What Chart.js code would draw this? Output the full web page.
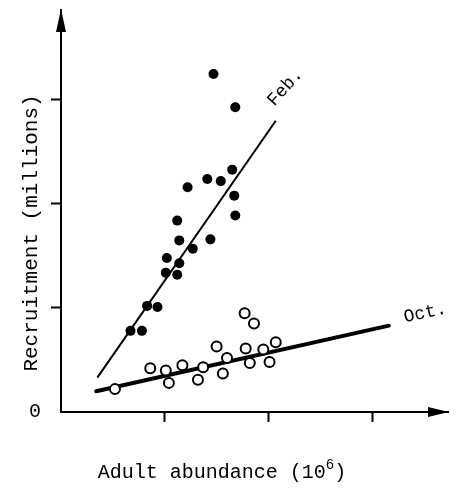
<!DOCTYPE html>
<html>
<head>
<meta charset="utf-8">
<script src="https://cdn.jsdelivr.net/npm/chart.js@4/dist/chart.umd.min.js"></script>
<style>
  html, body { margin: 0; padding: 0; background: #fff; }
</style>
</head>
<body>
<canvas id="chart" width="465" height="493"></canvas>
<script>
// Feb. (filled dots)
var febX = [1.47, 1.68, 1.65, 1.54, 1.41, 1.22, 1.67, 1.68, 1.12, 1.14,
            1.44, 1.27, 1.02, 1.14, 1.01, 1.12, 0.83, 0.93, 0.67, 0.78];
var febY = [3.25, 2.93, 2.33, 2.22, 2.24, 2.16, 2.08, 1.89, 1.84, 1.65,
            1.66, 1.57, 1.48, 1.43, 1.34, 1.32, 1.02, 1.01, 0.78, 0.78];

// Oct. (open circles)
var octX = [0.52, 0.86, 1.01, 1.04, 1.17, 1.32, 1.37, 1.50, 1.56, 1.60,
            1.77, 1.86, 1.78, 1.82, 1.95, 2.01, 2.07];
var octY = [0.22, 0.42, 0.40, 0.28, 0.45, 0.31, 0.43, 0.63, 0.37, 0.52,
            0.95, 0.85, 0.61, 0.47, 0.60, 0.48, 0.67];

// fitted lines
var febLineX = [0.35, 2.07];
var febLineY = [0.33, 2.80];
var octLineX = [0.34, 3.16];
var octLineY = [0.20, 0.83];

var xTicks = [1, 2, 3];
var yTicks = [0, 1, 2, 3];
var yTickLabels = { 0: '0' };
var seriesLabels = ['Feb.', 'Oct.'];
var xTitle = 'Adult abundance (10';
var xTitleSup = '6';
var xTitleEnd = ')';
var yTitle = 'Recruitment (millions)';

var FONT = '"Liberation Mono", "Courier New", monospace';

function pts(xs, ys) {
  return xs.map(function(x, i) { return { x: x, y: ys[i] }; });
}

var decor = {
  id: 'decor',
  afterDraw: function(chart) {
    var ctx = chart.ctx;
    var a = chart.chartArea;
    var xs = chart.scales.x;
    var ys = chart.scales.y;
    var ox = xs.getPixelForValue(0);
    var oy = ys.getPixelForValue(0);
    ctx.save();
    ctx.fillStyle = '#000';

    // arrow heads
    ctx.beginPath();
    ctx.moveTo(ox, a.top - 1);
    ctx.lineTo(ox - 5, a.top + 22);
    ctx.lineTo(ox + 5, a.top + 22);
    ctx.closePath();
    ctx.fill();
    ctx.beginPath();
    ctx.moveTo(a.right + 1, oy);
    ctx.lineTo(a.right - 20, oy - 5);
    ctx.lineTo(a.right - 20, oy + 5);
    ctx.closePath();
    ctx.fill();

    // series labels
    ctx.font = '18px ' + FONT;
    ctx.textAlign = 'center';
    ctx.textBaseline = 'middle';
    ctx.save();
    ctx.translate(xs.getPixelForValue(2.16), ys.getPixelForValue(3.12));
    ctx.rotate(-48 * Math.PI / 180);
    ctx.fillText(seriesLabels[0], 0, 0);
    ctx.restore();
    ctx.save();
    ctx.translate(xs.getPixelForValue(3.51), ys.getPixelForValue(0.95));
    ctx.rotate(-12 * Math.PI / 180);
    ctx.fillText(seriesLabels[1], 0, 0);
    ctx.restore();

    // y title
    ctx.save();
    ctx.font = '21px ' + FONT;
    ctx.translate(31, 233);
    ctx.rotate(-Math.PI / 2);
    ctx.fillText(yTitle, 0, 0);
    ctx.restore();

    // x title with superscript
    ctx.textAlign = 'left';
    ctx.textBaseline = 'alphabetic';
    ctx.font = '20px ' + FONT;
    var w1 = ctx.measureText(xTitle).width;
    var w3 = ctx.measureText(xTitleEnd).width;
    ctx.font = '14px ' + FONT;
    var w2 = ctx.measureText(xTitleSup).width;
    var x0 = 222 - (w1 + w2 + w3) / 2;
    var base = 478;
    ctx.font = '20px ' + FONT;
    ctx.fillText(xTitle, x0, base);
    ctx.font = '14px ' + FONT;
    ctx.fillText(xTitleSup, x0 + w1, base - 9);
    ctx.font = '20px ' + FONT;
    ctx.fillText(xTitleEnd, x0 + w1 + w2, base);
    ctx.restore();
  }
};

new Chart(document.getElementById('chart'), {
  type: 'scatter',
  data: {
    datasets: [
      {
        label: 'Feb.',
        data: pts(febX, febY),
        pointRadius: 5,
        pointBackgroundColor: '#000',
        pointBorderWidth: 0
      },
      {
        label: 'Oct.',
        data: pts(octX, octY),
        pointRadius: 5,
        pointBackgroundColor: '#fff',
        pointBorderColor: '#000',
        pointBorderWidth: 2
      },
      {
        label: 'Feb. fit',
        data: pts(febLineX, febLineY),
        showLine: true,
        borderColor: '#000',
        borderWidth: 2,
        pointRadius: 0
      },
      {
        label: 'Oct. fit',
        data: pts(octLineX, octLineY),
        showLine: true,
        borderColor: '#000',
        borderWidth: 4,
        borderCapStyle: 'round',
        pointRadius: 0
      }
    ]
  },
  options: {
    responsive: false,
    animation: false,
    devicePixelRatio: 1,
    layout: { padding: { left: 0, right: 17, top: 10, bottom: 0 } },
    plugins: {
      legend: { display: false },
      tooltip: { enabled: false }
    },
    scales: {
      x: {
        type: 'linear',
        min: 0,
        max: 3.73,
        afterBuildTicks: function(s) { s.ticks = xTicks.map(function(v) { return { value: v }; }); },
        afterFit: function(s) { s.height = 81; s.paddingLeft = 0; s.paddingRight = 0; },
        ticks: { display: false },
        grid: { drawOnChartArea: false, drawTicks: true, tickLength: 10, tickWidth: 2, tickColor: '#000' },
        border: { display: true, color: '#000', width: 2 }
      },
      y: {
        type: 'linear',
        min: 0,
        max: 3.865,
        afterBuildTicks: function(s) { s.ticks = yTicks.map(function(v) { return { value: v }; }); },
        afterFit: function(s) { s.width = 61; s.paddingTop = 0; s.paddingBottom = 0; },
        ticks: {
          color: '#000',
          padding: 10,
          font: { family: FONT, size: 20 },
          callback: function(v) { return yTickLabels[v] || ''; }
        },
        grid: {
          drawOnChartArea: false,
          drawTicks: true,
          tickLength: 10,
          tickWidth: 2,
          tickColor: function(c) { return c.tick && c.tick.value === 0 ? 'rgba(0,0,0,0)' : '#000'; }
        },
        border: { display: true, color: '#000', width: 2 }
      }
    }
  },
  plugins: [decor]
});
</script>
</body>
</html>
